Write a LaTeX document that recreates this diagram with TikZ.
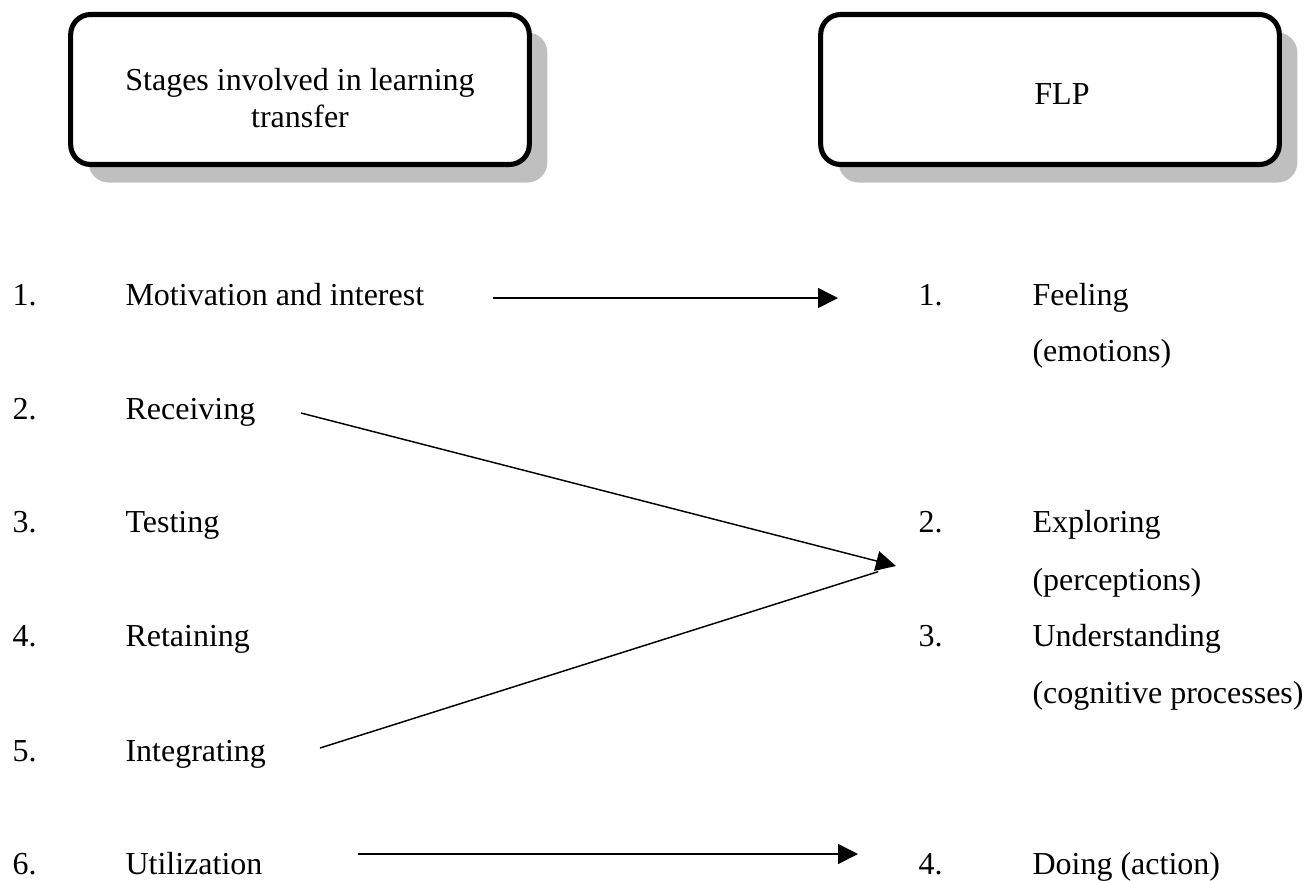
\documentclass[tikz,border=0pt]{standalone}
\usepackage{fontspec}
\setmainfont{Liberation Serif}
\usetikzlibrary{arrows.meta,shadows}
\tikzset{
  flbox/.style={draw, line width=1.9pt, rounded corners=7.5pt, fill=white,
    minimum width=172pt, minimum height=56.25pt, align=center,
    drop shadow={shadow xshift=6.75pt, shadow yshift=-6.75pt, fill=black!25, opacity=1}},
  item/.style={anchor=base west, inner sep=0pt},
  link/.style={line width=0.55pt, -{Triangle[length=7.5pt,width=7.5pt]}}
}
\begin{document}
\begin{tikzpicture}[x=0.375pt, y=-0.375pt, font=\fontsize{12}{13.8}\selectfont]
  \useasboundingbox (0,0) rectangle (1312,880);
  \node[flbox] (stages) at (300,89.5) {\rule{0pt}{14.5pt}Stages involved in learning\\transfer};
  \node[flbox] (flp) at (1050,89.5) {\rule{0pt}{11.5pt}\hspace{9pt}FLP};
  \draw
    (12,305) node[item] (n1){1.}
    (12,419) node[item] (n2){2.}
    (12,532) node[item] (n3){3.}
    (12,646) node[item] (n4){4.}
    (12,761) node[item] (n5){5.}
    (12,874) node[item] (n6){6.}
    (125,305) node[item] (motiv){Motivation and interest}
    (125,419) node[item] (recv){Receiving}
    (125,532) node[item] (test){Testing}
    (125,646) node[item] (retain){Retaining}
    (125,761) node[item] (integ){Integrating}
    (125,874) node[item] (util){Utilization};
  \draw
    (918,305) node[item] (m1){1.}
    (918,532) node[item] (m2){2.}
    (918,646) node[item] (m3){3.}
    (918,874) node[item] (m4){4.}
    (1032,305) node[item] (feel){Feeling}
    (1032,361) node[item] (emo){(emotions)}
    (1032,532) node[item] (expl){Exploring}
    (1032,590) node[item] (perc){(perceptions)}
    (1032,646) node[item] (under){Understanding}
    (1032,703) node[item] (cogn){(cognitive processes)}
    (1032,874) node[item] (doing){Doing (action)};
  \coordinate (motivend) at (493,298);
  \coordinate (feelend) at (838,298);
  \coordinate (recvend) at (301,413);
  \coordinate (integend) at (320,748);
  \coordinate (meet) at (896,566);
  \coordinate (utilend) at (358,854);
  \coordinate (doingend) at (858,854);
  \begin{scope}[link]
    \draw (motivend) to (feelend);
    \draw (recvend) to (meet);
    \draw[-, shorten >=7pt] (integend) to (meet);
    \draw (utilend) to (doingend);
  \end{scope}
\end{tikzpicture}
\end{document}
